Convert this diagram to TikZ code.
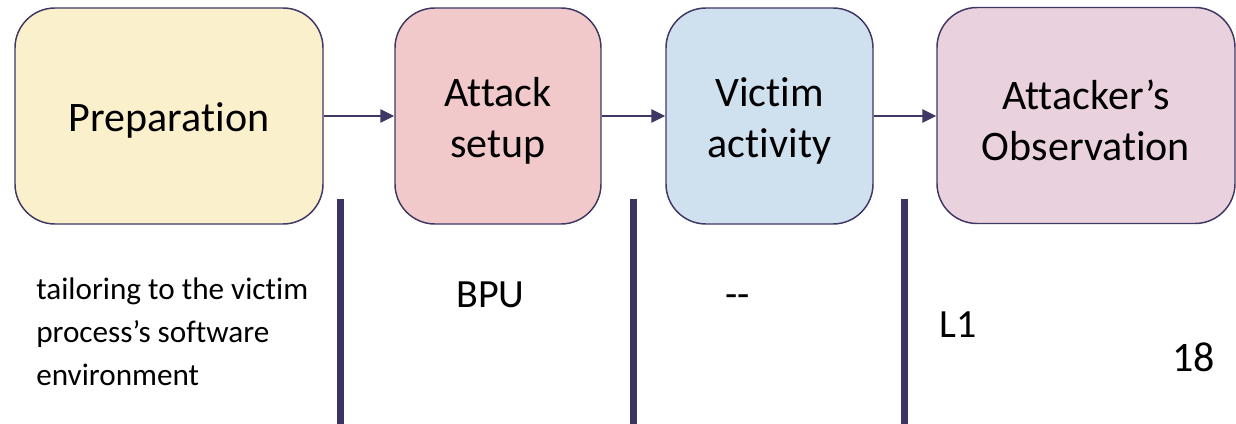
\documentclass[tikz,border=0pt]{standalone}
\usepackage{fontspec}
\setmainfont{Carlito}[Ligatures={NoCommon}]
\usetikzlibrary{arrows.meta}

\definecolor{edgeInk}{HTML}{3F3864}
\definecolor{barInk}{HTML}{3B3462}
\definecolor{prepFill}{HTML}{FBF0CC}
\definecolor{setupFill}{HTML}{F2C9CA}
\definecolor{victimFill}{HTML}{CFE0EF}
\definecolor{observeFill}{HTML}{EAD1DE}

\tikzset{
  stage/.style={draw=edgeInk, line width=1.1pt, rounded corners=30pt,
    minimum height=162pt, inner sep=0pt},
  stagetext/.style={inner sep=0pt, align=center, yshift=-3.5pt,
    font=\fontsize{31.5}{38.25}\selectfont},
  flow/.style={draw=edgeInk, line width=1.1pt,
    -{Triangle[length=10.5pt, width=10pt]}},
  divider/.style={draw=barInk, line width=5.25pt},
  note/.style={inner sep=0pt, font=\fontsize{30}{36}\selectfont},
  smallnote/.style={inner sep=0pt, align=left, font=\fontsize{23.4}{31.9}\selectfont}
}

\begin{document}
\begin{tikzpicture}[x=0.75pt, y=-0.75pt]
  \useasboundingbox (0,0) rectangle (1236,424);

  % process stages
  \node[stage, fill=prepFill,    minimum width=231pt]    (prep)    at (169,116)   {};
  \node[stage, fill=setupFill,   minimum width=154.5pt]  (setup)   at (498,116)   {};
  \node[stage, fill=victimFill,  minimum width=155.25pt] (victim)  at (769.5,116) {};
  \node[stage, fill=observeFill, minimum width=223.5pt]  (observe) at (1086,115.5)  {};

  % stage titles
  \node[stagetext] (preptitle)    at (prep.center)    {Preparation};
  \node[stagetext] (setuptitle)   at (setup.center)   {Attack\\setup};
  \node[stagetext] (victimtitle)  at (victim.center)  {Victim\\activity};
  \node[stagetext] (observetitle) at (observe.center) {Attacker’s\\Observation};

  % flow between stages
  \draw[flow] (prep.east)   -- (setup.west);
  \draw[flow] (setup.east)  -- (victim.west);
  \draw[flow] (victim.east) -- (victim.east -| observe.west);

  % column dividers
  \coordinate (d1top) at (340,199);  \coordinate (d1bot) at (340,424);
  \coordinate (d2top) at (633,199);  \coordinate (d2bot) at (633,424);
  \coordinate (d3top) at (904.5,199);  \coordinate (d3bot) at (904.5,424);
  \draw[divider] (d1top) -- (d1bot);
  \draw[divider] (d2top) -- (d2bot);
  \draw[divider] (d3top) -- (d3bot);

  % per-stage notes
  \node[smallnote, anchor=base west] (prepnote) at (36,385)
    {tailoring to the victim\\process’s software\\environment};
  \node[note, anchor=base west] (bpu)  at (456,307) {BPU};
  \node[note, anchor=base west] (none) at (725,307) {-{}-};
  \node[note, anchor=base west] (lone) at (939,337) {L1};
  \node[note, anchor=base west, font=\fontsize{31.5}{36}\selectfont] (page) at (1172,371) {18};
\end{tikzpicture}
\end{document}
